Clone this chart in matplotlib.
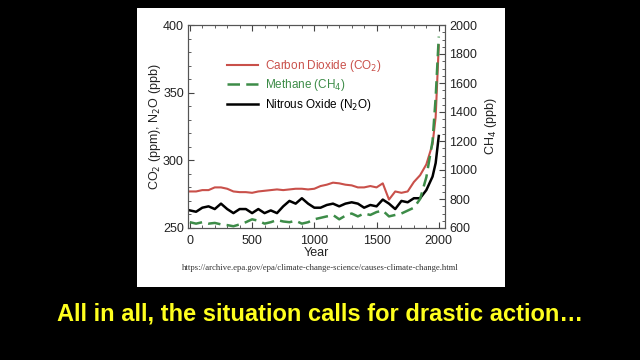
import matplotlib
matplotlib.use("Agg")
import matplotlib.pyplot as plt
from matplotlib.ticker import MultipleLocator

plt.rcParams['font.family'] = ['Liberation Sans', 'DejaVu Sans']

# values
years = [0, 50, 100, 150, 200, 250, 300, 350, 400, 450, 500, 550, 600, 650,
         700, 750, 800, 850, 900, 950, 1000, 1050, 1100, 1150, 1200, 1250,
         1300, 1350, 1400, 1450, 1500, 1550, 1600, 1650, 1700, 1750, 1800,
         1850, 1900, 1950, 1975, 2000]
co2 = [277, 277, 278, 278, 280, 280, 279, 277, 276.5, 276.5, 276, 277, 277.5,
       278, 278.5, 278, 278.5, 279, 279, 278.5, 279, 281, 282, 283.5, 283,
       282, 281.5, 280, 280, 281, 280, 283, 271, 277, 276, 277, 284,
       289, 297, 312, 332, 385]
n2o = [263, 262, 265, 266, 264, 268, 264, 261, 264, 264, 261, 264, 261, 263,
       261, 266, 270, 268, 272, 268, 265, 265, 267, 268, 266, 268,
       269, 268, 265, 267, 266, 271, 268, 264, 270, 269, 272,
       272, 278, 288, 298, 318]
ch4 = [640, 630, 640, 630, 635, 625, 620, 612, 625, 640, 660, 650, 630, 640,
       655, 645, 640, 650, 630, 640, 660, 670, 680, 690, 660, 685,
       700, 680, 700, 690, 710, 720, 680, 690, 700, 720, 740,
       800, 950, 1200, 1500, 1920]

labels = ["Carbon Dioxide (CO$_2$)", "Methane (CH$_4$)", "Nitrous Oxide (N$_2$O)"]
red = "#c9504a"
green = "#3d8c48"

fig = plt.figure(figsize=(6.4, 3.6), dpi=100, facecolor="black")

# white slide panel behind the chart
bg = fig.add_axes([137 / 640, 1 - 287 / 360, 368 / 640, 279 / 360])
bg.set_facecolor("white")
bg.axis("off")
bg.add_patch(plt.Rectangle((0, 0), 1, 1, color="white", transform=bg.transAxes))

ax = fig.add_axes([188 / 640, 1 - 228 / 360, 257 / 640, 203 / 360])
ax2 = ax.twinx()

l1, = ax.plot(years, co2, color=red, lw=1.5)
l3, = ax.plot(years, n2o, color="black", lw=1.8)
l2, = ax2.plot(years, ch4, color=green, lw=1.8, dashes=(5, 2.5))

ax.set_xlim(-15, 2050)
ax.set_ylim(250, 400)
ax2.set_ylim(600, 2000)

ax.xaxis.set_major_locator(MultipleLocator(500))
ax.xaxis.set_minor_locator(MultipleLocator(100))
ax.yaxis.set_major_locator(MultipleLocator(50))
ax.yaxis.set_minor_locator(MultipleLocator(10))
ax2.yaxis.set_major_locator(MultipleLocator(200))
ax2.yaxis.set_minor_locator(MultipleLocator(50))

for a in (ax, ax2):
    a.tick_params(which="both", direction="in", labelsize=9, pad=3,
                  color="#444444", labelcolor="#222222")
    a.tick_params(which="major", length=4)
    a.tick_params(which="minor", length=2)
    for s in a.spines.values():
        s.set_color("#555555")
        s.set_linewidth(0.8)
ax.tick_params(which="both", top=True)
ax.tick_params(axis="x", pad=5)

ax.set_xlabel("Year", fontsize=9, labelpad=0, color="#222222")
ax.set_ylabel("CO$_2$ (ppm), N$_2$O (ppb)", fontsize=9, labelpad=0, color="#222222")
ax2.set_ylabel("CH$_4$ (ppb)", fontsize=9, labelpad=4, color="#222222")

leg = ax.legend([l1, l2, l3], labels, loc="upper left", bbox_to_anchor=(0.11, 0.89),
                frameon=False, fontsize=8.5, handlelength=2.6, labelspacing=0.3,
                handletextpad=0.6)
for txt, c in zip(leg.get_texts(), [red, green, "black"]):
    txt.set_color(c)

fig.text(0.5, 1 - 268 / 360, "https://archive.epa.gov/epa/climate-change-science/causes-climate-change.html",
         ha="center", va="center", fontsize=6.2, family="Liberation Serif", color="#333333")
fig.text(0.5, 1 - 314 / 360, "All in all, the situation calls for drastic action\u2026",
         ha="center", va="center", fontsize=17, fontweight="bold", color="#ffff1e")

fig.savefig("out.png", dpi=100, facecolor="black")
